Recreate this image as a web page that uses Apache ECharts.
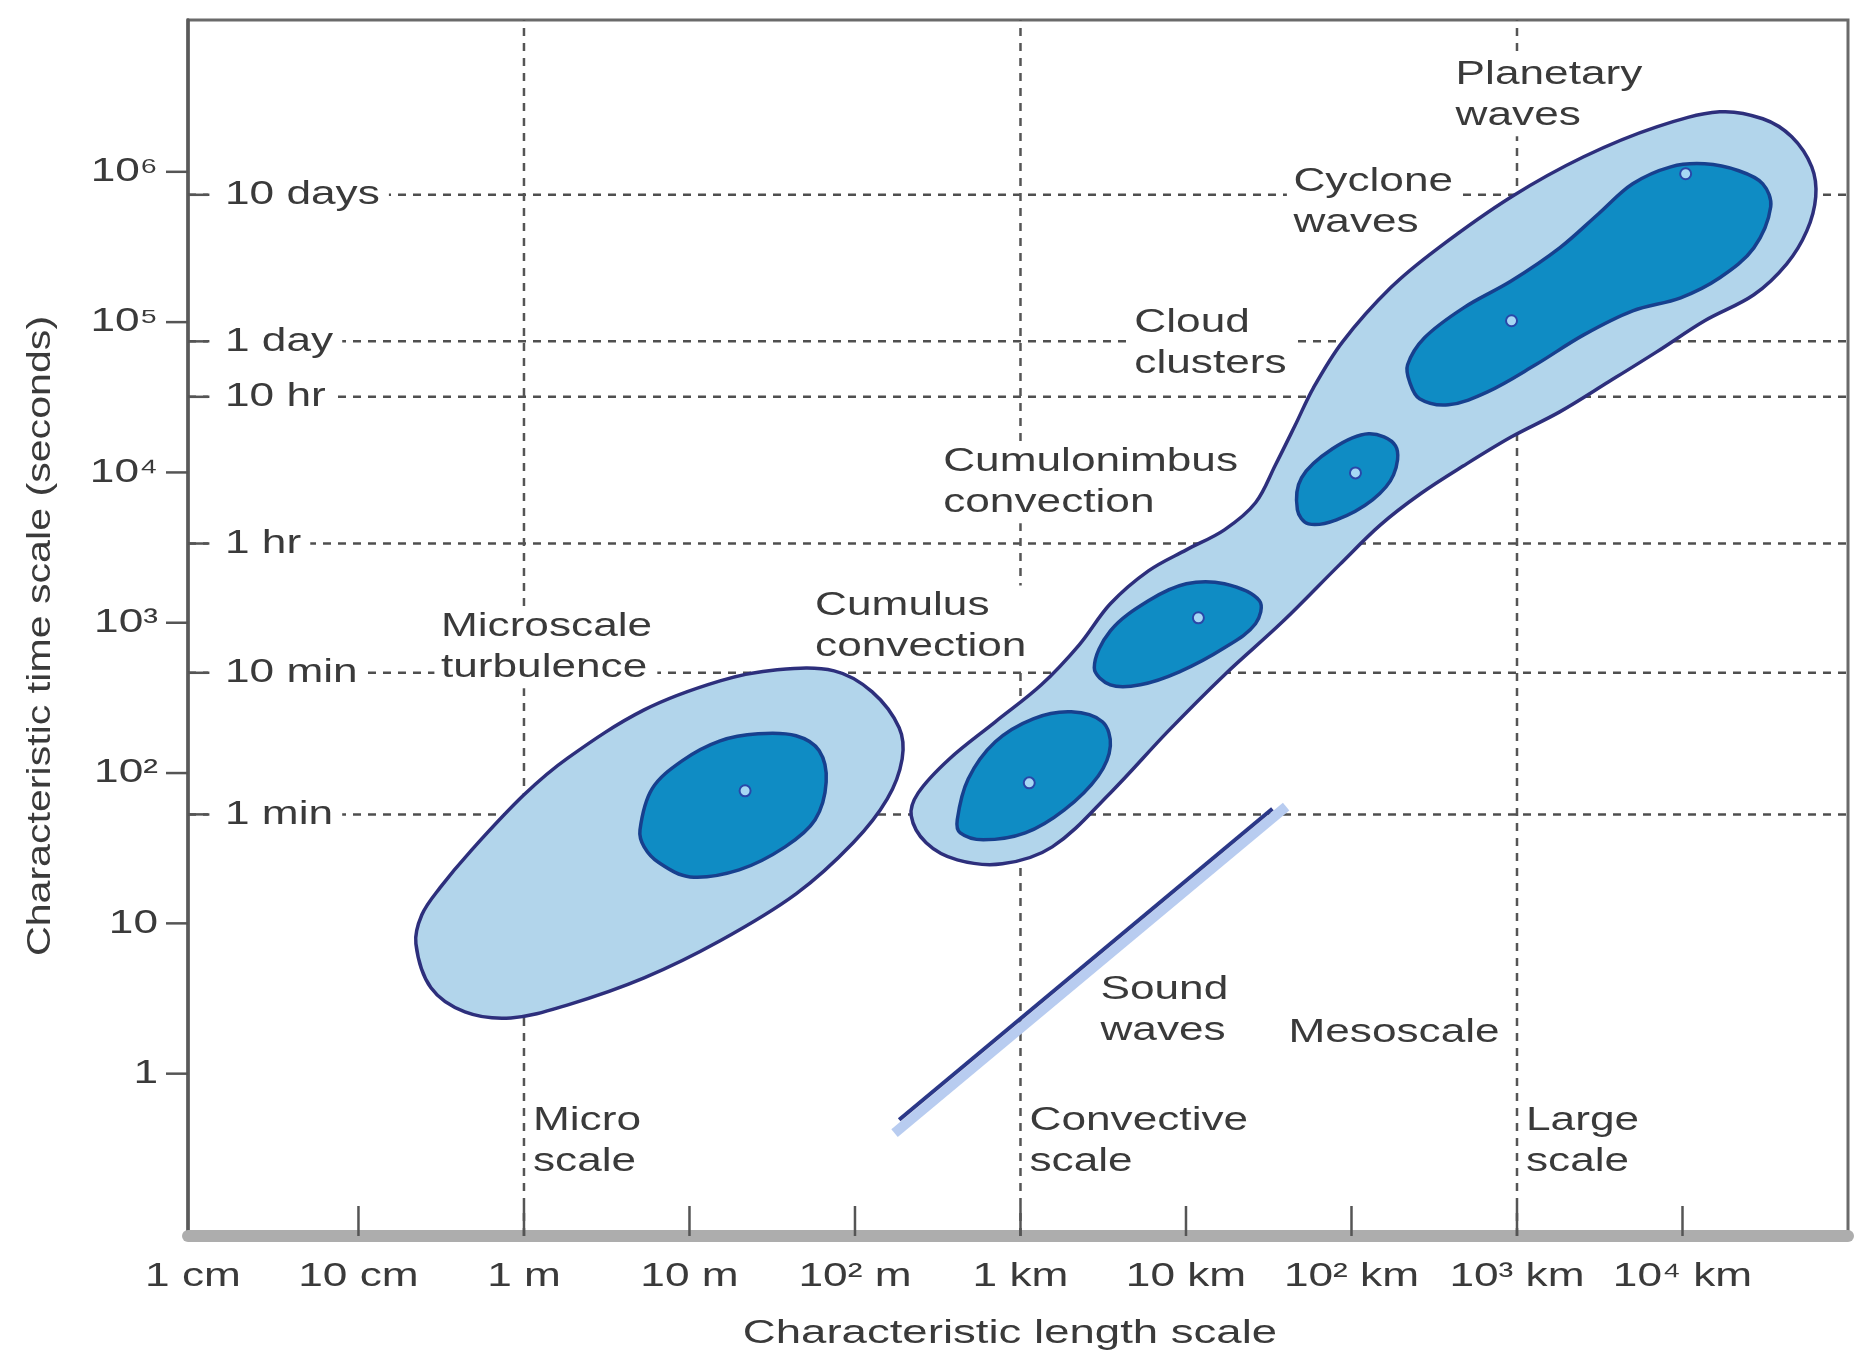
<!DOCTYPE html>
<html><head><meta charset="utf-8">
<script src="https://cdn.jsdelivr.net/npm/echarts@6/dist/echarts.min.js"></script>
<style>html,body{margin:0;padding:0;background:#fff}#c{width:1858px;height:1357px}</style>
</head><body><div id="c"></div>
<script>
// All values in log10 units: x = log10(length in metres), y = log10(time in seconds)
const xTickValues = [-2, -1, 0, 1, 2, 3, 4, 5, 6, 7];
const xTickLabels = ['1 cm', '10 cm', '1 m', '10 m', '10² m', '1 km', '10 km', '10² km', '10³ km', '10⁴ km'];
const yTickValues = [0, 1, 2, 3, 4, 5, 6];
const yTickLabels = ['1', '10', '10²', '10³', '10⁴', '10⁵', '10⁶'];
const timeMarkValues = [5.847, 4.872, 4.503, 3.527, 2.667, 1.725];
const timeMarkLabels = ['10 days', '1 day', '10 hr', '1 hr', '10 min', '1 min'];
const scaleBoundaryValues = [0, 3, 6];
const scaleBoundaryLabels = ['Micro\nscale', 'Convective\nscale', 'Large\nscale'];
const scaleLabelLevel = -0.314;

const microscaleOuter = [[-0.653,0.864],[-0.617,1.057],[-0.508,1.236],[-0.326,1.476],[0,1.855],[0.266,2.101],[0.726,2.420],[1.185,2.613],[1.530,2.687],[1.874,2.680],[2.104,2.540],[2.267,2.301],[2.285,2.094],[2.195,1.828],[1.989,1.536],[1.644,1.196],[1.185,0.884],[0.726,0.637],[0.266,0.458],[-0.079,0.371],[-0.357,0.411],[-0.562,0.571]];
const microscaleInner = [[0.701,1.622],[0.774,1.895],[0.955,2.081],[1.185,2.214],[1.415,2.261],[1.644,2.248],[1.784,2.148],[1.826,1.941],[1.759,1.689],[1.578,1.509],[1.300,1.356],[1.004,1.309],[0.816,1.403],[0.726,1.509]];
const convectiveOuter = [[2.340,1.715],[2.382,1.868],[2.570,2.094],[2.848,2.341],[3.126,2.587],[3.355,2.853],[3.543,3.126],[3.773,3.345],[4.002,3.485],[4.232,3.618],[4.420,3.798],[4.541,4.051],[4.661,4.317],[4.770,4.563],[4.946,4.869],[5.236,5.228],[5.526,5.494],[5.967,5.834],[6.403,6.100],[6.844,6.299],[7.225,6.399],[7.485,6.353],[7.660,6.233],[7.781,6.033],[7.805,5.834],[7.751,5.607],[7.630,5.388],[7.431,5.182],[7.134,5.009],[6.844,4.802],[6.554,4.603],[6.258,4.403],[5.967,4.237],[5.677,4.044],[5.417,3.858],[5.175,3.651],[4.927,3.385],[4.583,3.006],[4.232,2.653],[3.888,2.274],[3.543,1.868],[3.192,1.509],[2.890,1.396],[2.618,1.422],[2.430,1.536]];
const cumulusInner = [[2.618,1.689],[2.684,1.961],[2.848,2.208],[3.077,2.361],[3.307,2.407],[3.495,2.341],[3.543,2.181],[3.470,1.981],[3.265,1.755],[3.029,1.602],[2.775,1.556],[2.636,1.602]];
const mesoInner = [[3.446,2.700],[3.543,2.946],[3.773,3.146],[4.002,3.259],[4.232,3.259],[4.444,3.146],[4.420,2.993],[4.232,2.833],[3.960,2.673],[3.724,2.587],[3.543,2.587]];
const cumulonimbusInner = [[4.673,3.751],[4.698,3.964],[4.885,4.157],[5.103,4.257],[5.266,4.177],[5.254,3.984],[5.127,3.818],[4.909,3.685],[4.740,3.658]];
const synopticInner = [[5.351,4.603],[5.411,4.490],[5.586,4.450],[5.822,4.536],[6.112,4.716],[6.403,4.915],[6.699,5.075],[6.989,5.162],[7.225,5.295],[7.431,5.494],[7.533,5.767],[7.485,5.920],[7.340,6.007],[7.134,6.053],[6.929,6.033],[6.699,5.920],[6.493,5.721],[6.258,5.494],[5.967,5.275],[5.677,5.095],[5.441,4.896],[5.339,4.716]];
const peakPoints = [[1.336,1.882],[3.053,1.935],[4.075,3.033],[5.024,3.997],[5.967,5.009],[7.019,5.987]];
const soundWaves = [[2.267,-0.307],[4.522,1.762]];
const soundShadow = [[2.239,-0.395],[4.605,1.777]];
const phenomenaLabels = ['Planetary\nwaves','Cyclone\nwaves','Cloud\nclusters','Cumulonimbus\nconvection','Cumulus\nconvection','Microscale\nturbulence','Sound\nwaves','Mesoscale'];
const phenomenaAnchors = [[5.629,6.645],[4.649,5.933],[3.688,4.995],[2.533,4.071],[1.759,3.112],[-0.502,2.973],[3.483,0.558],[4.619,0.271]];

const X_MIN = -2.03, X_MAX = 8.0, Y_MIN = -1.08, Y_MAX = 7.01;
const FONT = "'Liberation Sans', Arial, Helvetica, 'DejaVu Sans', sans-serif";
const TXT = '#3a3a3a';
const SX = 1.3;
const LH = 41;

function txt(x, y, text, st, sx) {
  const s = sx || SX;
  const pad = (st && st.padding) ? st.padding : [0, 0, 0, 0];
  // shift so the glyphs (not the padded box) start at the requested x
  const dx = (st && st.align === 'left') ? -pad[3] * s : ((st && st.align === 'right') ? pad[1] * s : 0);
  return { type: 'text', x: x + dx, y: y, scaleX: s,
    style: Object.assign({ text: text, fontSize: 34, fontFamily: FONT, fill: TXT, lineHeight: LH }, st || {}) };
}

function polySeries(shapes, fill, stroke, lw, z) {
  return {
    type: 'custom', coordinateSystem: 'cartesian2d', z: z, silent: true,
    data: shapes.map(s => s[0]),
    renderItem: (p, api) => ({
      type: 'polygon',
      shape: { points: shapes[p.dataIndex].map(pt => api.coord(pt)), smooth: 0.35 },
      style: { fill: fill, stroke: stroke, lineWidth: lw }
    })
  };
}

const chart = echarts.init(document.getElementById('c'), null, { renderer: 'canvas' });
const option = {
  animation: false,
  backgroundColor: '#ffffff',
  grid: { left: 188, right: 10, top: 20, bottom: 121, show: true, borderColor: '#6a6a6a', borderWidth: 3, backgroundColor: 'transparent' },
  xAxis: { type: 'value', min: X_MIN, max: X_MAX,
    axisLine: { show: true, onZero: false, lineStyle: { color: '#adadad', width: 12 } },
    axisTick: { show: false }, axisLabel: { show: false }, splitLine: { show: false } },
  yAxis: { type: 'value', min: Y_MIN, max: Y_MAX,
    axisLine: { show: true, onZero: false, lineStyle: { color: '#5a5a5a', width: 3.5 } },
    axisTick: { show: false }, axisLabel: { show: false }, splitLine: { show: false } },
  graphic: [
    { type: 'text', x: 1010, y: 1334, scaleX: 1.34, z: 10,
      style: { text: 'Characteristic length scale', fontSize: 34, fontFamily: FONT, fill: TXT, align: 'center', verticalAlign: 'middle' } },
    { type: 'text', x: 41, y: 636, rotation: Math.PI / 2, scaleX: 1.21, z: 10,
      style: { text: 'Characteristic time scale (seconds)', fontSize: 34, fontFamily: FONT, fill: TXT, align: 'center', verticalAlign: 'middle' } }
  ],
  series: [
    // horizontal dashed time lines
    { type: 'custom', z: 1, silent: true, data: timeMarkValues.map(v => [X_MIN, v]),
      renderItem: (p, api) => {
        const a = api.coord([X_MIN, api.value(1)]), b = api.coord([X_MAX, api.value(1)]);
        return { type: 'line', shape: { x1: a[0], y1: a[1], x2: b[0], y2: b[1] },
          style: { stroke: '#4f4f4f', lineWidth: 2.5, lineDash: [8, 7] } };
      } },
    // vertical dashed scale boundaries
    { type: 'custom', z: 1, silent: true, data: scaleBoundaryValues.map(v => [v, Y_MIN]),
      renderItem: (p, api) => {
        const a = api.coord([api.value(0), Y_MIN]), b = api.coord([api.value(0), Y_MAX]);
        return { type: 'line', shape: { x1: a[0], y1: a[1], x2: b[0], y2: b[1] },
          style: { stroke: '#555555', lineWidth: 2.5, lineDash: [8, 7] } };
      } },
    // phenomena labels (white box masks the dashed lines, but sits under the regions)
    { type: 'custom', z: 2, silent: true, data: phenomenaAnchors,
      renderItem: (p, api) => {
        const c = api.coord([api.value(0), api.value(1)]);
        return txt(c[0], c[1] - LH / 2, phenomenaLabels[p.dataIndex], { align: 'left', verticalAlign: 'top', backgroundColor: '#fff', padding: [0, 4, 0, 5] });
      } },
    // scale-boundary labels
    { type: 'custom', z: 2, silent: true, data: scaleBoundaryValues.map(v => [v, scaleLabelLevel]),
      renderItem: (p, api) => {
        const c = api.coord([api.value(0), api.value(1)]);
        return txt(c[0] + 9, c[1] - LH / 2, scaleBoundaryLabels[p.dataIndex], { align: 'left', verticalAlign: 'top', backgroundColor: '#fff', padding: [0, 3, 0, 2] });
      } },
    polySeries([microscaleOuter, convectiveOuter], '#b2d5eb', '#2d2f7c', 3.5, 3),
    polySeries([microscaleInner, cumulusInner, mesoInner, cumulonimbusInner, synopticInner], '#0f8cc4', '#17408e', 3.5, 4),
    // peak markers
    { type: 'custom', z: 5, silent: true, data: peakPoints,
      renderItem: (p, api) => {
        const c = api.coord([api.value(0), api.value(1)]);
        return { type: 'circle', shape: { cx: c[0], cy: c[1], r: 5.5 },
          style: { fill: '#a6d8f4', stroke: '#2a47a8', lineWidth: 2 } };
      } },
    // sound waves
    { type: 'line', z: 5, silent: true, data: soundShadow, symbol: 'none',
      lineStyle: { color: '#b8ccf0', width: 10, cap: 'butt' } },
    { type: 'line', z: 6, silent: true, data: soundWaves, symbol: 'none',
      lineStyle: { color: '#2b3888', width: 4, cap: 'butt' } },
    // x ticks and labels
    { type: 'custom', z: 7, silent: true, data: xTickValues.map(v => [v, Y_MIN]),
      renderItem: (p, api) => {
        const c = api.coord([api.value(0), Y_MIN]);
        const kids = [];
        if (api.value(0) > X_MIN + 0.1) {
          kids.push({ type: 'line', shape: { x1: c[0], y1: c[1], x2: c[0], y2: c[1] - 30 }, style: { stroke: '#555', lineWidth: 2.5 } });
        }
        kids.push(txt(c[0], c[1] + 41, xTickLabels[p.dataIndex], { align: 'center', verticalAlign: 'middle' }));
        return { type: 'group', children: kids };
      } },
    // y ticks and labels (powers of ten)
    { type: 'custom', z: 7, silent: true, data: yTickValues.map(v => [X_MIN, v]),
      renderItem: (p, api) => {
        const c = api.coord([X_MIN, api.value(1)]);
        return { type: 'group', children: [
          { type: 'line', shape: { x1: c[0] - 22, y1: c[1], x2: c[0], y2: c[1] }, style: { stroke: '#555', lineWidth: 2.5 } },
          txt(c[0] - 30, c[1], yTickLabels[p.dataIndex], { align: 'right', verticalAlign: 'middle' })
        ] };
      } },
    // time-mark ticks and labels
    { type: 'custom', z: 7, silent: true, data: timeMarkValues.map(v => [X_MIN, v]),
      renderItem: (p, api) => {
        const c = api.coord([X_MIN, api.value(1)]);
        return { type: 'group', children: [
          txt(c[0] + 37, c[1], timeMarkLabels[p.dataIndex], { align: 'left', verticalAlign: 'middle', backgroundColor: '#fff', padding: [0, 7, 0, 12] }),
          { type: 'line', shape: { x1: c[0], y1: c[1], x2: c[0] + 20, y2: c[1] }, style: { stroke: '#555', lineWidth: 2.5 }, z2: 10 }
        ] };
      } }
  ]
};
chart.setOption(option);
</script>
</body></html>
